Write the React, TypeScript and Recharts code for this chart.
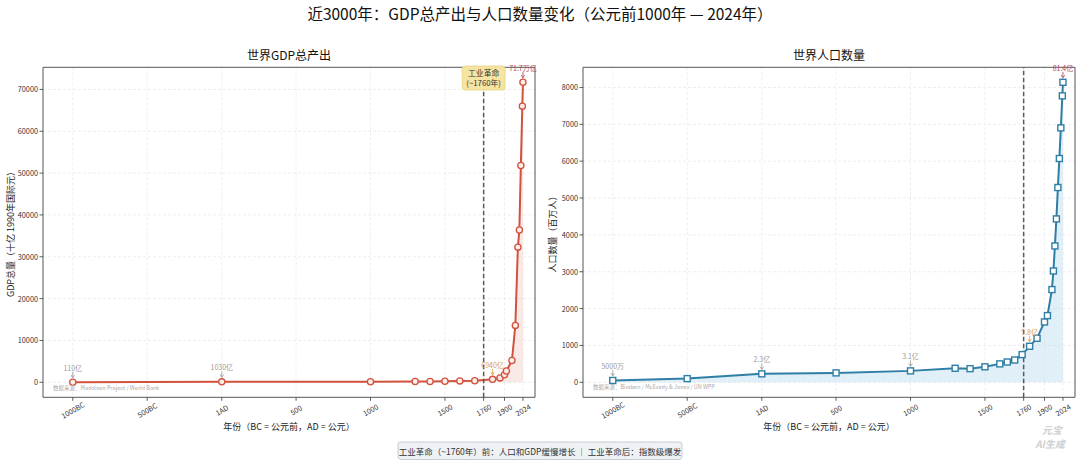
import React from 'react';
import {
  ComposedChart,
  Area,
  XAxis,
  YAxis,
  CartesianGrid,
  ReferenceLine,
  ReferenceArea,
  ReferenceDot,
} from 'recharts';

// ---------- data ----------
const xTickValues = [-1000, -500, 1, 500, 1000, 1500, 1760, 1900, 2024];
const xTickLabels = ['1000BC', '500BC', '1AD', '500', '1000', '1500', '1760', '1900', '2024'];

const gdpYears = [-1000, 1, 1000, 1300, 1400, 1500, 1600, 1700, 1820, 1870, 1900, 1913, 1950, 1973, 1990, 2000, 2010, 2020, 2024];
const gdpValues = [11, 103, 121, 180, 200, 248, 331, 371, 700, 1050, 1800, 2700, 5200, 13600, 32300, 36400, 51800, 66000, 71700];

const popYears = [-1000, -500, 1, 500, 1000, 1300, 1400, 1500, 1600, 1650, 1700, 1750, 1800, 1850, 1900, 1920, 1950, 1960, 1970, 1980, 1990, 2000, 2010, 2020, 2024];
const popValues = [50, 100, 230, 255, 310, 380, 370, 420, 500, 550, 605, 752, 977, 1195, 1637, 1810, 2516, 3021, 3700, 4433, 5285, 6072, 6903, 7772, 8140];

const gdpTicks = [0, 10000, 20000, 30000, 40000, 50000, 60000, 70000];
const popTicks = [0, 1000, 2000, 3000, 4000, 5000, 6000, 7000, 8000];

const gdpNoteYears = [-1000, 1, 1820, 2024];
const gdpNoteValues = [11, 103, 700, 71700];
const gdpNoteTexts = ['110亿', '1030亿', '6940亿', '71.7万亿'];
const gdpNoteKinds = ['early', 'early', 'industrial', 'latest'];

const popNoteYears = [-1000, 1, 1000, 1800, 2024];
const popNoteValues = [50, 230, 310, 977, 8140];
const popNoteTexts = ['5000万', '2.3亿', '3.1亿', '9.8亿', '81.4亿'];
const popNoteKinds = ['early', 'early', 'early', 'industrial', 'latest'];

const industrialYear = 1760;

// ---------- tables ----------
const gdpData = gdpYears.map((year, i) => ({ year, value: gdpValues[i] }));
const popData = popYears.map((year, i) => ({ year, value: popValues[i] }));
const gdpNotes = gdpNoteYears.map((year, i) => ({ year, value: gdpNoteValues[i], text: gdpNoteTexts[i], kind: gdpNoteKinds[i] }));
const popNotes = popNoteYears.map((year, i) => ({ year, value: popNoteValues[i], text: popNoteTexts[i], kind: popNoteKinds[i] }));

// ---------- styles ----------
const FONT = '"Noto Sans CJK SC", "Noto Sans", "DejaVu Sans", sans-serif';
const X_DOMAIN: [number, number] = [-1200, 2105];
const GDP_DOMAIN: [number, number] = [-3585, 75285];
const POP_DOMAIN: [number, number] = [-407, 8547];
const CHART_W = 540;
const CHART_H = 461;
const MARGIN = { top: 67.3, right: 5, bottom: 33.7, left: 0 };

const noteColor: Record<string, string> = {
  early: '#9a9a9a',
  industrial: '#d9a046',
  latest: '#b4475a',
};

const GDP_COLOR = '#d2523d';
const POP_COLOR = '#2e7ea6';

const XTick = (props: any) => {
  const { x, y, payload } = props;
  const idx = xTickValues.indexOf(payload.value);
  const label = idx >= 0 ? xTickLabels[idx] : String(payload.value);
  const cy = y + 7.2;
  return (
    <text
      x={x}
      y={cy}
      textAnchor="middle"
      dominantBaseline="central"
      transform={`rotate(-30 ${x} ${cy})`}
      fontSize={7.2}
      fill="#333"
      fontFamily={FONT}
    >
      {label}
    </text>
  );
};

const YTick = (props: any) => {
  const { x, y, payload } = props;
  return (
    <text x={x} y={y} textAnchor="end" dominantBaseline="central" fontSize={7.3} fill="#333" fontFamily={FONT}>
      {payload.value}
    </text>
  );
};

const NoteShape = (props: any) => {
  const { cx, cy, note } = props;
  const color = noteColor[note.kind];
  return (
    <g>
      <text x={cx} y={cy - 14.5} textAnchor="middle" dominantBaseline="central" fontSize={7} fill={color} fontFamily={FONT}>
        {note.text}
      </text>
      <line x1={cx} y1={cy - 10.5} x2={cx} y2={cy - 4.5} stroke={color} strokeWidth={0.8} />
      <path d={`M${cx - 1.8},${cy - 7.3} L${cx},${cy - 4.5} L${cx + 1.8},${cy - 7.3}`} fill="none" stroke={color} strokeWidth={0.8} />
    </g>
  );
};

const IRLabel = (props: any) => {
  const vb = props.viewBox || {};
  const x = vb.x ?? 0;
  const y = vb.y ?? 0;
  return (
    <g>
      <rect x={x - 21.5} y={y - 1.3} width={43} height={24} rx={3} ry={3} fill="#f6e4a2" stroke="#e9d27e" strokeWidth={0.8} />
      <text x={x} y={y + 5.2} textAnchor="middle" dominantBaseline="central" fontSize={7.8} fill="#333" fontFamily={FONT}>
        工业革命
      </text>
      <text x={x} y={y + 14.8} textAnchor="middle" dominantBaseline="central" fontSize={7.8} fill="#333" fontFamily={FONT}>
        (~1760年)
      </text>
    </g>
  );
};

const SquareDot = (props: any) => {
  const { cx, cy, key } = props;
  if (cx == null || cy == null) return <g key={key} />;
  return <rect key={key} x={cx - 3} y={cy - 3} width={6} height={6} fill="#fff" stroke={POP_COLOR} strokeWidth={1.4} />;
};

const CircleDot = (props: any) => {
  const { cx, cy, key } = props;
  if (cx == null || cy == null) return <g key={key} />;
  return <circle key={key} cx={cx} cy={cy} r={3.1} fill="#fbeeec" stroke={GDP_COLOR} strokeWidth={1.3} />;
};

type PanelProps = {
  data: { year: number; value: number }[];
  notes: { year: number; value: number; text: string; kind: string }[];
  yDomain: [number, number];
  yTicks: number[];
  color: string;
  fill: string;
  fillOpacity: number;
  dot: any;
  showIRBox: boolean;
};

const Panel = ({ data, notes, yDomain, yTicks, color, fill, fillOpacity, dot, showIRBox }: PanelProps) => (
  <ComposedChart width={CHART_W} height={CHART_H} data={data} margin={MARGIN}>
    <CartesianGrid stroke="#e6e6e6" strokeDasharray="3 2" strokeWidth={0.7} verticalValues={xTickValues} horizontalValues={yTicks} />
    <XAxis
      dataKey="year"
      type="number"
      domain={X_DOMAIN}
      ticks={xTickValues}
      interval={0}
      allowDataOverflow
      axisLine={false}
      tickLine={{ stroke: '#333', strokeWidth: 0.8 }}
      tickSize={3.5}
      tick={<XTick />}
      height={30}
    />
    <YAxis
      type="number"
      domain={yDomain}
      ticks={yTicks}
      interval={0}
      allowDataOverflow
      axisLine={false}
      tickLine={{ stroke: '#333', strokeWidth: 0.8 }}
      tickSize={3.5}
      tickMargin={1.5}
      tick={<YTick />}
      width={43}
    />
    <Area
      type="linear"
      dataKey="value"
      stroke={color}
      strokeWidth={2}
      fill={fill}
      fillOpacity={fillOpacity}
      dot={dot}
      activeDot={false}
      isAnimationActive={false}
    />
    <ReferenceLine
      x={industrialYear}
      stroke="#5a5a5a"
      strokeWidth={1.5}
      strokeDasharray="4.5 2.5"
      label={showIRBox ? <IRLabel /> : undefined}
    />
    {notes.map((n) => (
      <ReferenceDot
        key={`${n.year}-${n.text}`}
        x={n.year}
        y={n.value}
        r={0}
        ifOverflow="visible"
        shape={(p: any) => <NoteShape cx={p.cx} cy={p.cy} note={n} />}
      />
    ))}
    <ReferenceArea
      x1={X_DOMAIN[0]}
      x2={X_DOMAIN[1]}
      y1={yDomain[0]}
      y2={yDomain[1]}
      fill="none"
      fillOpacity={0}
      stroke="#555"
      strokeWidth={1}
      ifOverflow="visible"
    />
  </ComposedChart>
);

export default function App() {
  return (
    <div style={{ position: 'absolute', left: 0, top: 0, width: 1080, height: 461, background: '#fff', overflow: 'hidden' }}>
      <div style={{ position: 'absolute', left: 0, top: 0 }}>
        <Panel
          data={gdpData}
          notes={gdpNotes}
          yDomain={GDP_DOMAIN}
          yTicks={gdpTicks}
          color={GDP_COLOR}
          fill="#efb8ae"
          fillOpacity={0.3}
          dot={<CircleDot />}
          showIRBox
        />
      </div>
      <div style={{ position: 'absolute', left: 540, top: 0 }}>
        <Panel
          data={popData}
          notes={popNotes}
          yDomain={POP_DOMAIN}
          yTicks={popTicks}
          color={POP_COLOR}
          fill="#bcdcef"
          fillOpacity={0.45}
          dot={<SquareDot />}
          showIRBox={false}
        />
      </div>
      <svg width={1080} height={461} style={{ position: 'absolute', left: 0, top: 0, pointerEvents: 'none' }} fontFamily={FONT}>
        <text x={540} y={13} textAnchor="middle" dominantBaseline="central" fontSize={15.5} fontWeight={400} fill="#111">
          近3000年：GDP总产出与人口数量变化（公元前1000年 — 2024年）
        </text>
        <text x={289} y={54} textAnchor="middle" dominantBaseline="central" fontSize={12} fill="#111">
          世界GDP总产出
        </text>
        <text x={829} y={54} textAnchor="middle" dominantBaseline="central" fontSize={12} fill="#111">
          世界人口数量
        </text>
        <text x={289} y={426} textAnchor="middle" dominantBaseline="central" fontSize={9} fill="#222">
          年份（BC = 公元前，AD = 公元）
        </text>
        <text x={829} y={426.5} textAnchor="middle" dominantBaseline="central" fontSize={9} fill="#222">
          年份（BC = 公元前，AD = 公元）
        </text>
        <text
          x={10.5}
          y={232}
          textAnchor="middle"
          dominantBaseline="central"
          fontSize={9}
          fill="#222"
          transform="rotate(-90 10.5 232)"
        >
          GDP总量（十亿 1990年国际元）
        </text>
        <text
          x={552}
          y={232}
          textAnchor="middle"
          dominantBaseline="central"
          fontSize={9}
          fill="#222"
          transform="rotate(-90 552 232)"
        >
          人口数量（百万人）
        </text>
        <text x={53} y={387.5} dominantBaseline="central" fontSize={5.5} fill="#aaa">
          数据来源：Maddison Project / World Bank
        </text>
        <text x={593} y={386.7} dominantBaseline="central" fontSize={5.5} fill="#aaa">
          数据来源：Biraben / McEvedy &amp; Jones / UN WPP
        </text>
        <rect x={398} y={442} width={284} height={17.5} rx={3} ry={3} fill="#eef2f5" stroke="#b9c2cc" strokeWidth={0.8} />
        <text x={540} y={450.8} textAnchor="middle" dominantBaseline="central" fontSize={8.5} fill="#333">
          工业革命（~1760年）前：人口和GDP缓慢增长 ｜ 工业革命后：指数级爆发
        </text>
        <text x={1052} y={429} textAnchor="middle" dominantBaseline="central" fontSize={10} fontStyle="italic" fontWeight={700} fill="#cfcfcf">
          元宝
        </text>
        <text x={1050} y={443.5} textAnchor="middle" dominantBaseline="central" fontSize={10} fontStyle="italic" fontWeight={700} fill="#cfcfcf">
          AI生成
        </text>
      </svg>
    </div>
  );
}
